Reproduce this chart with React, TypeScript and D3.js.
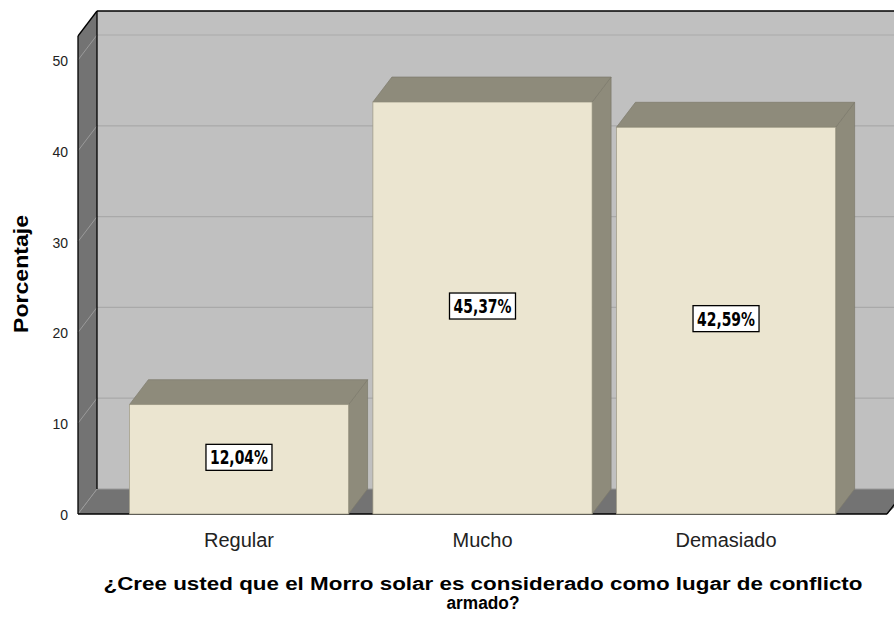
import React from "react";
import * as d3 from "d3";

const categories = ["Regular", "Mucho", "Demasiado"];
const values = [12.04, 45.37, 42.59];
const labels = ["12,04%", "45,37%", "42,59%"];
const yTicks = [0, 10, 20, 30, 40, 50];
const yTitle = "Porcentaje";
const xTitle = ["¿Cree usted que el Morro solar es considerado como lugar de conflicto", "armado?"];

const W = 894, H = 622;
const DX = 19, DY = -25;
const left = 78, right = 887;
const y0 = 514;

export default function App() {
  const y = d3.scaleLinear().domain([0, 50]).range([y0, 60]);
  const x = d3.scaleBand().domain(categories).range([left, right]).paddingInner(0.1).paddingOuter(0.211);
  const wallTopFront = 36;
  const bw = x.bandwidth();
  const sans = "'Liberation Sans', Arial, sans-serif";
  return (
    <svg width={W} height={H} style={{ position: "absolute", left: 0, top: 0 }}>
      <rect width={W} height={H} fill="#ffffff" />
      <rect x={left + DX} y={wallTopFront + DY} width={W} height={y0 - wallTopFront} fill="#c0c0c0" />
      <polygon points={`${left},${wallTopFront} ${left + DX},${wallTopFront + DY} ${left + DX},${y0 + DY} ${left},${y0}`} fill="#737373" />
      <polygon points={`${left},${y0} ${left + DX},${y0 + DY} ${W + 20},${y0 + DY} ${right},${y0}`} fill="#737373" />
      {yTicks.map((t) => (
        <g key={t}>
          {t > 0 && <line x1={left + DX} x2={W} y1={y(t) + DY} y2={y(t) + DY} stroke="#a9a9a9" strokeWidth={1.2} />}
          <line x1={left} x2={left + DX} y1={y(t)} y2={y(t) + DY} stroke="#9a9a9a" strokeWidth={1} />
        </g>
      ))}
      <line x1={left + DX} x2={W} y1={y0 + DY} y2={y0 + DY} stroke="#9a9a9a" strokeWidth={1} />
      <line x1={left + DX} x2={W} y1={wallTopFront + DY} y2={wallTopFront + DY} stroke="#000" strokeWidth={1.3} />
      <line x1={left + DX} x2={left + DX} y1={wallTopFront + DY} y2={y0 + DY} stroke="#000" strokeWidth={1.3} />
      <line x1={left} x2={left} y1={wallTopFront} y2={y0} stroke="#000" strokeWidth={1.3} />
      <line x1={left} x2={left + DX} y1={wallTopFront} y2={wallTopFront + DY} stroke="#000" strokeWidth={1.3} />
      <line x1={left} x2={right} y1={y0} y2={y0} stroke="#000" strokeWidth={1.3} />
      <line x1={right} x2={right + DX} y1={y0} y2={y0 + DY} stroke="#000" strokeWidth={1.3} />
      {categories.map((c, i) => {
        const bx = x(c)!;
        const by = y(values[i]);
        return (
          <g key={c}>
            <polygon points={`${bx + bw},${by} ${bx + bw + DX},${by + DY} ${bx + bw + DX},${y0 + DY} ${bx + bw},${y0}`} fill="#8e8b7b" stroke="#7d7a6b" strokeWidth={0.7} />
            <polygon points={`${bx},${by} ${bx + DX},${by + DY} ${bx + bw + DX},${by + DY} ${bx + bw},${by}`} fill="#8e8b7b" stroke="#7d7a6b" strokeWidth={0.7} />
            <rect x={bx} y={by} width={bw} height={y0 - by} fill="#ebe5d0" stroke="#9c9884" strokeWidth={0.7} />
          </g>
        );
      })}
      {categories.map((c, i) => {
        const cx = x(c)! + bw / 2;
        const cy = (y(values[i]) + y0) / 2 - 2;
        return (
          <g key={c + "l"}>
            <rect x={cx - 33} y={cy - 13} width={66} height={26} fill="#ffffff" stroke="#000" strokeWidth={1.3} />
            <text x={cx} y={cy + 7} textAnchor="middle" textLength={58} lengthAdjust="spacingAndGlyphs" fontFamily="'DejaVu Sans Condensed', sans-serif" fontWeight="bold" fontSize={19} fill="#000">{labels[i]}</text>
          </g>
        );
      })}
      {yTicks.map((t) => (
        <text key={"t" + t} x={68} y={y(t) + 6} textAnchor="end" fontFamily={sans} fontSize={14} fill="#222">{t}</text>
      ))}
      {categories.map((c) => (
        <text key={c + "c"} x={x(c)! + bw / 2} y={547} textAnchor="middle" fontFamily={sans} fontSize={20} fill="#222">{c}</text>
      ))}
      <text transform={`translate(28, 274) rotate(-90)`} textAnchor="middle" textLength={118} lengthAdjust="spacingAndGlyphs" fontFamily={sans} fontWeight="bold" fontSize={20} fill="#000">{yTitle}</text>
      <text x={483} y={590} textAnchor="middle" textLength={759} lengthAdjust="spacingAndGlyphs" fontFamily={sans} fontWeight="bold" fontSize={18} fill="#000">{xTitle[0]}</text>
      <text x={483} y={609} textAnchor="middle" textLength={73} lengthAdjust="spacingAndGlyphs" fontFamily={sans} fontWeight="bold" fontSize={18} fill="#000">{xTitle[1]}</text>
    </svg>
  );
}
